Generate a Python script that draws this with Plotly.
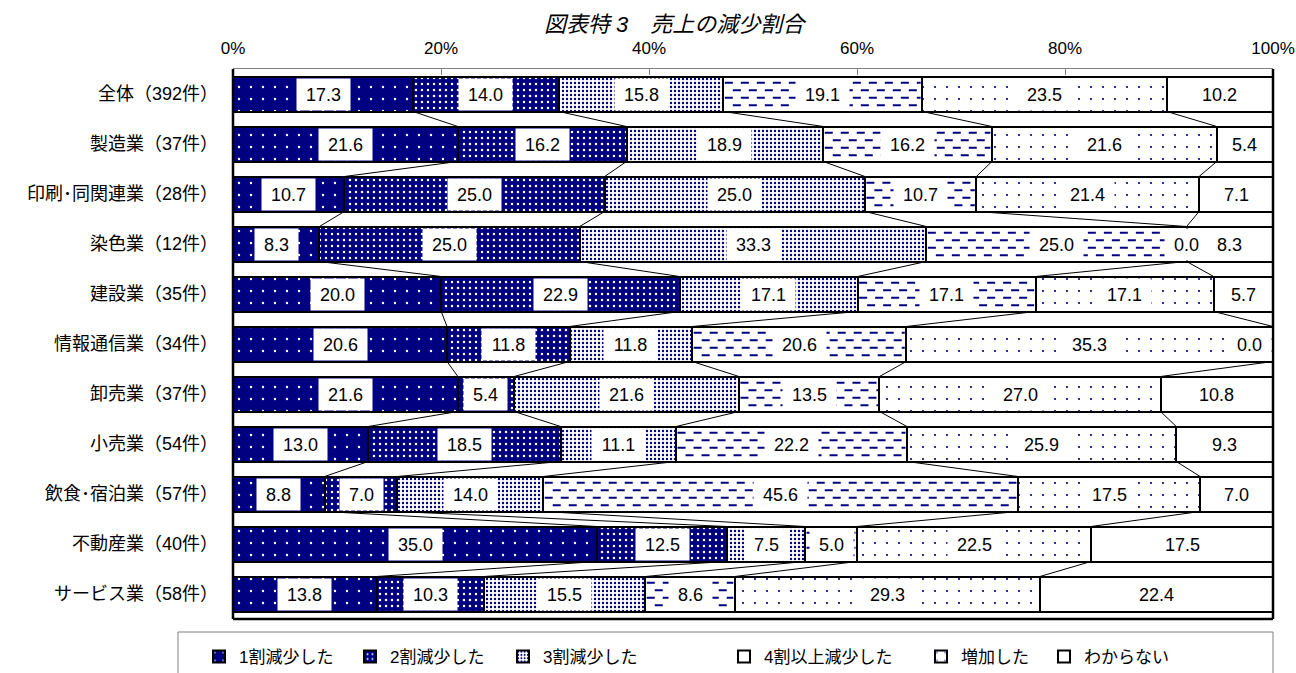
import numpy as np
import plotly.graph_objects as go

# Industry categories (top to bottom)
categories = [
    "全体（392件）", "製造業（37件）", "印刷･同関連業（28件）", "染色業（12件）",
    "建設業（35件）", "情報通信業（34件）", "卸売業（37件）", "小売業（54件）",
    "飲食･宿泊業（57件）", "不動産業（40件）", "サービス業（58件）",
]

series_names = ["1割減少した", "2割減少した", "3割減少した", "4割以上減少した", "増加した", "わからない"]

# Share of respondents (%) per answer
cut_10 = [17.3, 21.6, 10.7, 8.3, 20.0, 20.6, 21.6, 13.0, 8.8, 35.0, 13.8]
cut_20 = [14.0, 16.2, 25.0, 25.0, 22.9, 11.8, 5.4, 18.5, 7.0, 12.5, 10.3]
cut_30 = [15.8, 18.9, 25.0, 33.3, 17.1, 11.8, 21.6, 11.1, 14.0, 7.5, 15.5]
cut_40plus = [19.1, 16.2, 10.7, 25.0, 17.1, 20.6, 13.5, 22.2, 45.6, 5.0, 8.6]
increased = [23.5, 21.6, 21.4, 0.0, 17.1, 35.3, 27.0, 25.9, 17.5, 22.5, 29.3]
unknown = [10.2, 5.4, 7.1, 8.3, 5.7, 0.0, 10.8, 9.3, 7.0, 17.5, 22.4]

tick_values = [0, 20, 40, 60, 80, 100]
tick_labels = ["0%", "20%", "40%", "60%", "80%", "100%"]

series_values = [cut_10, cut_20, cut_30, cut_40plus, increased, unknown]

NAVY = "#000080"
patterns = [
    dict(shape=".", bgcolor=NAVY, fgcolor="white", size=12, solidity=0.03, fillmode="replace"),
    dict(shape=".", bgcolor=NAVY, fgcolor="white", size=6, solidity=0.13, fillmode="replace"),
    dict(shape=".", bgcolor="white", fgcolor=NAVY, size=4, solidity=0.28, fillmode="replace"),
    dict(shape="", bgcolor="white", fillmode="replace"),   # dashed rows drawn separately
    dict(shape=".", bgcolor="white", fgcolor=NAVY, size=12, solidity=0.025, fillmode="replace"),
    dict(shape="", bgcolor="white", fillmode="replace"),
]
DASHED_SERIES = 3

# Plot-area geometry (pixels)
W, H = 1296, 673
ML, MR, MT, MB = 233, 23, 69, 54
PW = W - ML - MR
PH = H - MT - MB
BAR_W = 0.7
PX_PER_UNIT_Y = PH / 11.0

FONT = "Liberation Sans, Arial, Noto Sans CJK JP, sans-serif"

n = len(categories)
ypos = np.arange(n)
vals = np.array(series_values, dtype=float).T            # rows = categories
shares = vals / vals.sum(axis=1, keepdims=True) * 100.0  # normalised to 100 %
cum = np.cumsum(shares, axis=1)
start = cum - shares

fig = go.Figure()

# legend placement (symbol left edge in px)
legend_px = [213, 364, 517, 738, 935, 1058]
legend_py = 657

for k, name in enumerate(series_names):
    lname = "legend" if k == 0 else f"legend{k + 1}"
    fig.add_trace(go.Bar(
        x=series_values[k], y=ypos, orientation="h", name=name, width=BAR_W,
        marker=dict(color="white", pattern=patterns[k], line=dict(color="black", width=2)),
        legend=lname, hoverinfo="skip",
    ))

# staggered dashed rows filling the "4割以上減少した" segments
inset = 1.5 / PW * 100
row_offsets_px = [-11.25, -3.75, 3.75, 11.25]
for r, off in enumerate(row_offsets_px):
    dx, dy = [], []
    for i in range(n):
        if shares[i, DASHED_SERIES] <= 0:
            continue
        x0 = start[i, DASHED_SERIES] + inset
        x1 = cum[i, DASHED_SERIES] - inset
        yy = i + off / PX_PER_UNIT_Y
        dx += [x0, x1, None]
        dy += [yy, yy, None]
    dash = "8px,8px" if r % 2 == 0 else "0px,8px,8px,0px"
    fig.add_trace(go.Scatter(x=dx, y=dy, mode="lines", line=dict(color=NAVY, width=2, dash=dash),
                             showlegend=False, hoverinfo="skip"))

# series lines linking the segment boundaries of neighbouring bars
lx, ly = [], []
for k in range(5):
    for i in range(n - 1):
        lx += [cum[i, k], cum[i + 1, k], None]
        ly += [i + BAR_W / 2, i + 1 - BAR_W / 2, None]
fig.add_trace(go.Scatter(x=lx, y=ly, mode="lines", line=dict(color="black", width=1),
                         showlegend=False, hoverinfo="skip"))

# value labels on white boxes
def text_width(s, fs):
    w = 0.0
    for ch in s:
        w += 0.278 * fs if ch == "." else 0.556 * fs
    return w

LABEL_FS = 18
annotations = []
for i in range(n):
    for k in range(6):
        v = vals[i, k]
        s = f"{v:.1f}"
        bw = text_width(s, LABEL_FS) + 18
        cx = start[i, k] + shares[i, k] / 2
        max_cx = (PW - bw / 2 - 2) / PW * 100
        cx = min(cx, max_cx)
        annotations.append(dict(
            x=cx, y=i, xref="x", yref="y", text=s, showarrow=False,
            width=bw, height=31, bgcolor="white", borderpad=0,
            font=dict(size=LABEL_FS, color="black", family=FONT),
            align="center", valign="middle",
        ))

# title
annotations.append(dict(
    x=(675 - ML) / PW, y=(MT + PH - 25) / PH, xref="paper", yref="paper",
    text="図表特 3　売上の減少割合", showarrow=False,
    font=dict(size=22, color="black", family=FONT, style="italic"),
    xanchor="center", yanchor="middle",
))

def px_x(px):
    return (px - ML) / PW

def px_y(py):
    return (MT + PH - py) / PH

shapes = [
    # plot frame: left, right, bottom
    dict(type="line", xref="paper", yref="paper", x0=0, x1=0, y0=0, y1=1, line=dict(color="black", width=2.5)),
    dict(type="line", xref="paper", yref="paper", x0=1, x1=1, y0=0, y1=1, line=dict(color="black", width=2.5)),
    dict(type="line", xref="paper", yref="paper", x0=0, x1=1, y0=0, y1=0, line=dict(color="black", width=2.5)),
    # legend frame
    dict(type="rect", xref="paper", yref="paper", x0=px_x(178), x1=px_x(1273), y0=px_y(685), y1=px_y(632),
         line=dict(color="#808080", width=1), fillcolor="rgba(0,0,0,0)", layer="below"),
]

layout_legends = {}
for k in range(6):
    lname = "legend" if k == 0 else f"legend{k + 1}"
    layout_legends[lname] = dict(
        x=px_x(legend_px[k] - 14), y=px_y(legend_py), xanchor="left", yanchor="middle",
        orientation="h", bgcolor="rgba(0,0,0,0)", borderwidth=0,
        font=dict(size=17, color="black", family=FONT),
    )

fig.update_layout(
    width=W, height=H,
    margin=dict(l=ML, r=MR, t=MT, b=MB, pad=0, autoexpand=False),
    paper_bgcolor="white", plot_bgcolor="white",
    barmode="stack", barnorm="percent",
    showlegend=True,
    xaxis=dict(
        range=[0, 100], side="top", tickvals=tick_values, ticktext=tick_labels,
        showgrid=False, zeroline=False, showline=True, linecolor="#808080", linewidth=1,
        ticks="inside", ticklen=6, tickcolor="#808080", tickwidth=1,
        tickfont=dict(size=17, color="black", family=FONT), ticklabelstandoff=7,
        automargin=False, fixedrange=True,
    ),
    yaxis=dict(
        range=[n - 0.5, -0.5], tickvals=list(ypos), ticktext=categories,
        showgrid=False, zeroline=False, showline=False, ticks="",
        tickfont=dict(size=18, color="black", family=FONT), ticklabelstandoff=14,
        automargin=False, fixedrange=True,
    ),
    annotations=annotations,
    shapes=shapes,
    **layout_legends,
)

fig.write_html("out.html")
